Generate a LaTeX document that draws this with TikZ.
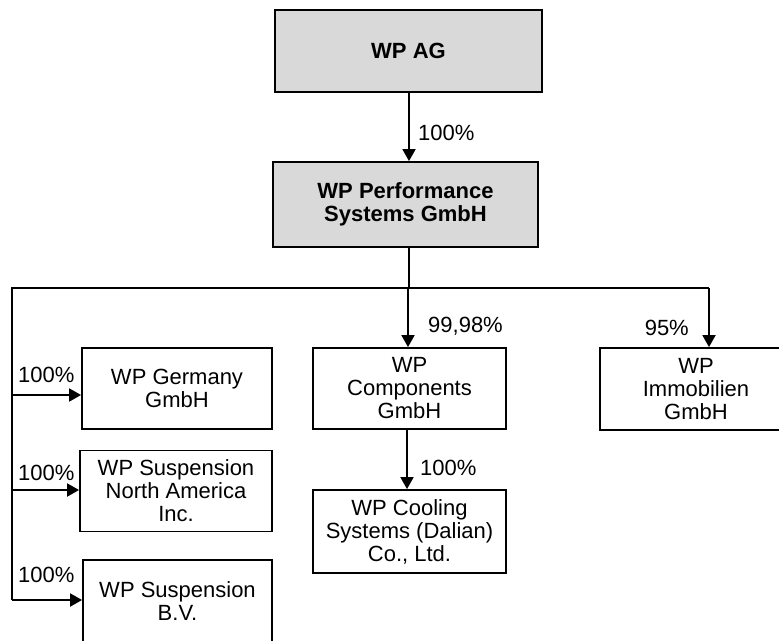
\documentclass[tikz,border=0pt]{standalone}
\usepackage{fontspec}
\setmainfont{Liberation Sans}
\usetikzlibrary{arrows.meta}
\definecolor{boxgray}{RGB}{217,217,217}
\begin{document}
\begin{tikzpicture}[x=1pt,y=-1pt,
  every node/.style={font=\fontsize{22}{23}\selectfont},
  entity/.style={draw=black,line width=1.8pt,align=center,inner sep=0pt},
  topbox/.style={entity,fill=boxgray,font=\fontsize{22}{23}\selectfont\bfseries},
  link/.style={line width=1.8pt},
  arr/.style={link,-{Triangle[width=13pt,length=12pt]}},
  pct/.style={inner sep=0pt}]
\useasboundingbox (0,0) rectangle (779,640);
\clip (0,0) rectangle (779,640);
\node[topbox,minimum width=267pt,minimum height=82pt] (ag) at (408.5,51) {WP AG};
\node[topbox,minimum width=265pt,minimum height=85pt] (perf) at (405.5,204.5) {WP Performance\\Systems GmbH};
\node[entity,minimum width=193pt,minimum height=81pt] (comp) at (409.5,388.5) {WP\\Components\\GmbH};
\node[entity,minimum width=192pt,minimum height=82pt] (immo) at (696,389) {WP\\Immobilien\\GmbH};
\node[entity,minimum width=193pt,minimum height=83pt] (cool) at (409.5,531.5) {WP Cooling\\Systems (Dalian)\\Co., Ltd.};
\node[entity,minimum width=190pt,minimum height=81pt] (ger) at (177,388.5) {WP Germany\\GmbH};
\node[entity,minimum width=192pt,minimum height=81pt] (na) at (176,491) {WP Suspension\\North America\\Inc.};
\node[entity,minimum width=189pt,minimum height=82pt] (bv) at (177.5,601) {WP Suspension\\B.V.};
\coordinate (hub) at (409,288);
\coordinate (lt) at (12,288);
\coordinate (rt) at (709,288);
\coordinate (lb) at (12,600);
\draw[arr] (409,0 |- ag.south) -- (409,0 |- perf.north);
\draw[link] (409,0 |- perf.south) -- (hub);
\draw[link] (lb) -- (lt) -- (rt);
\draw[arr] (408,288) -- (408,0 |- comp.north);
\draw[arr] (rt) -- (709,0 |- immo.north);
\draw[arr] (407,0 |- comp.south) -- (407,0 |- cool.north);
\draw[arr] (12,395) -- (ger.west |- 0,395);
\draw[arr] (12,490) -- (na.west |- 0,490);
\draw[arr] (lb) -- (bv.west |- lb);
\node[pct,anchor=west] (p1) at (418,133) {100\%};
\node[pct,anchor=west] (p2) at (428,326) {99,98\%};
\node[pct,anchor=east] (p3) at (689,328) {95\%};
\node[pct,anchor=west] (p4) at (420,468) {100\%};
\node[pct,anchor=west] (p5) at (18,375) {100\%};
\node[pct,anchor=west] (p6) at (18,473) {100\%};
\node[pct,anchor=west] (p7) at (18,575) {100\%};
\end{tikzpicture}
\end{document}
